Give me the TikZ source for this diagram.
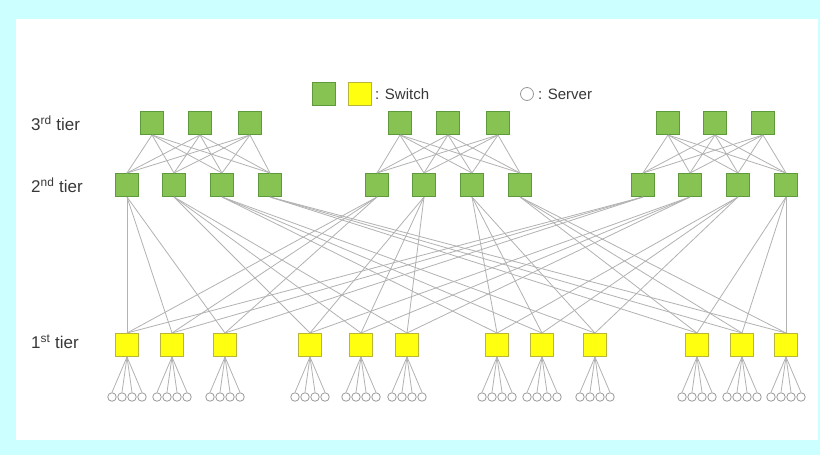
\documentclass[tikz,border=0pt]{standalone}
\usepackage[dvipsnames]{xcolor}
\definecolor{colorBack}{HTML}{CCFFFF}
\definecolor{colorUpper}{HTML}{86C352}
\definecolor{colorUpperLine}{HTML}{5E9A3C}
\definecolor{colorLower}{HTML}{FFFF10}
\definecolor{colorLowerLine}{HTML}{B9B43A}
\definecolor{colorLink}{HTML}{B2B2B2}
\definecolor{colorText}{HTML}{383838}
\usepackage{fontspec}
\setmainfont{Liberation Sans}
\usepackage{tikz}
\usetikzlibrary{positioning, calc}
\tikzset{
  upper/.style={draw=colorUpperLine, fill=colorUpper, line width=1pt, minimum size=23pt, inner sep=0pt},
  lower/.style={draw=colorLowerLine, fill=colorLower, line width=1pt, minimum size=23pt, inner sep=0pt},
  server/.style={circle, draw=gray!80, fill=white, line width=0.8pt, minimum size=8.5pt, inner sep=0pt},
  link/.style={draw=colorLink, line width=0.8pt},
  tierlabel/.style={anchor=west, text=colorText, font=\fontsize{17}{19}\selectfont, inner sep=0pt}
}

\begin{document}
\begin{tikzpicture}[x=1pt, y=-1pt]
% frame
\fill[colorBack] (0,0) rectangle (820,455);
\fill[white] (16,19) rectangle (818,440);
\useasboundingbox (0,0) rectangle (820,455);

% legend
\node[upper] (legUp) at (324,94) {};
\node[lower, right=12pt of legUp] (legLow) {};
\node[right=3pt of legLow, text=colorText, font=\fontsize{15}{17}\selectfont, inner sep=0pt] (legSw) {: Switch};
\node[server, minimum size=13pt] (legSrv) at (527,94) {};
\node[right=4pt of legSrv, text=colorText, font=\fontsize{15}{17}\selectfont, inner sep=0pt] (legSv) {: Server};

% tier labels
\node[tierlabel] (lab3) at (31,123) {3\textsuperscript{rd} tier};
\node[tierlabel] (lab2) at (31,185) {2\textsuperscript{nd} tier};
\node[tierlabel] (lab1) at (31,342) {1\textsuperscript{st} tier};

% switches
\foreach \x [count=\i] in {152,200,250,400,448,498,668,715,763}
  \node[upper] (q3-\i) at (\x,123) {};
\foreach \x [count=\i] in {127,174,222,270,377,424,472,520,643,690,738,786}
  \node[upper] (q2-\i) at (\x,185) {};
\foreach \x [count=\i] in {127,172,225,310,361,407,497,542,595,697,742,786}
  \node[lower] (q1-\i) at (\x,345) {};

% servers under each 1st tier switch
\foreach \i in {1,...,12}
  \foreach \d [count=\k] in {-15,-5,5,15} {
    \node[server] (v\i-\k) at ($(q1-\i)+(\d,52)$) {};
    \draw[link] (q1-\i.south) -- (v\i-\k.north);
  }

% 3rd tier -- 2nd tier, full mesh inside a pod
\foreach \p in {0,1,2}
  \foreach \a in {1,2,3}
    \foreach \b in {1,...,4} {
      \pgfmathtruncatemacro{\s}{3*\p+\a}
      \pgfmathtruncatemacro{\t}{4*\p+\b}
      \draw[link] (q3-\s.south) -- (q2-\t.north);
    }

% 2nd tier -- 1st tier, switch j of every pod to group j
\foreach \p in {0,1,2}
  \foreach \j in {0,...,3}
    \foreach \k in {1,2,3} {
      \pgfmathtruncatemacro{\s}{4*\p+\j+1}
      \pgfmathtruncatemacro{\t}{3*\j+\k}
      \draw[link] (q2-\s.south) -- (q1-\t.north);
    }
\end{tikzpicture}
\end{document}
